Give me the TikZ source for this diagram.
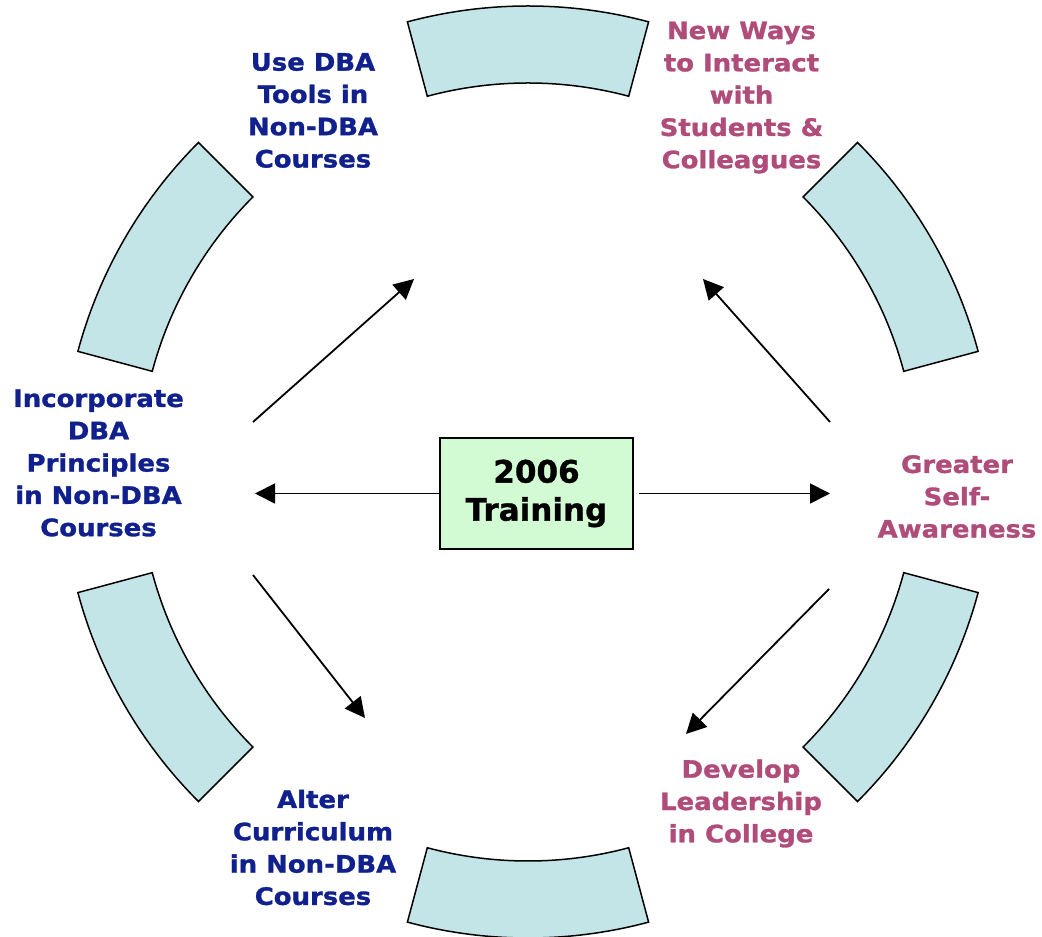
\documentclass[tikz,border=0pt]{standalone}
\usepackage{fontspec}
\usetikzlibrary{arrows.meta}
\newfontfamily\lblfont[FakeStretch=1.08, FakeBold=1.2]{DejaVu Sans}
\newfontfamily\boxfont[FakeBold=1]{DejaVu Sans}
\definecolor{dbablue}{RGB}{16,32,140}
\definecolor{selfpink}{RGB}{176,76,122}
\definecolor{ringfill}{RGB}{196,229,232}
\definecolor{boxfill}{RGB}{211,251,211}
\begin{document}
\begin{tikzpicture}[x=1pt, y=1pt,
	ringpart/.style={draw=black, line width=1.5pt, fill=ringfill},
	bluetext/.style={text=dbablue, font=\lblfont\bfseries\fontsize{24pt}{32.3pt}\selectfont, align=center, inner sep=0pt},
	pinktext/.style={bluetext, text=selfpink},
	trainbox/.style={draw=black, line width=1.7pt, fill=boxfill, minimum width=193pt, minimum height=111pt, font=\boxfont\bfseries\fontsize{31pt}{38pt}\selectfont, align=center},
	flow/.style={line width=1.8pt, -{Triangle[length=20pt, width=20pt]}}]
	\useasboundingbox (0,0) rectangle (1042,937);
	% Ring
	\foreach \a in {30, 90, ..., 330} {
		\draw [ringpart, shift={(528,465)}] (\a-15:466pt) arc [start angle=\a-15, end angle=\a+15, radius=466pt] -- (\a+15:389pt) arc [start angle=\a+15, end angle=\a-15, radius=389pt] -- cycle;
	}
	% Centre
	\node [trainbox] (train) at (536.5,443.5) {2006\\Training};
	% Labels
	\node [bluetext] (tools) at (313,826.5) {Use DBA\\Tools in\\Non-DBA\\Courses};
	\node [pinktext] (interact) at (741.5,839.5) {New Ways\\to Interact\\with\\Students \&\\Colleagues};
	\node [bluetext] (principles) at (98.5,474) {Incorporate\\DBA\\Principles\\in Non-DBA\\Courses};
	\node [pinktext] (aware) at (957,440.5) {Greater\\Self-\\Awareness};
	\node [pinktext] (leader) at (741,133.5) {Develop\\Leadership\\in College};
	\node [bluetext] (curric) at (313,89.5) {Alter\\Curriculum\\in Non-DBA\\Courses};
	% Arrow ends
	\coordinate (ul-s) at (253,515);
	\coordinate (ul-e) at (414,658);
	\coordinate (ur-s) at (830,515);
	\coordinate (ur-e) at (703,658);
	\coordinate (ll-s) at (253,362);
	\coordinate (ll-e) at (365,219);
	\coordinate (lr-s) at (829,348);
	\coordinate (lr-e) at (686,203);
	\coordinate (l-e) at (255,443.5);
	\coordinate (r-e) at (830,443.5);
	% Arrows
	\draw [flow] (train.west) -- (l-e);
	\draw [flow, shorten <=5pt] (train.east) -- (r-e);
	\draw [flow] (ul-s) -- (ul-e);
	\draw [flow] (ur-s) -- (ur-e);
	\draw [flow] (ll-s) -- (ll-e);
	\draw [flow] (lr-s) -- (lr-e);
\end{tikzpicture}
\end{document}
